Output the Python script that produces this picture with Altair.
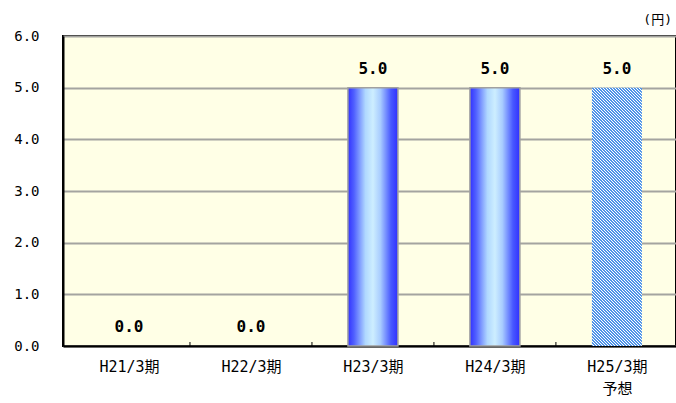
import altair as alt
import pandas as pd

# Dividend per share by fiscal period (yen)
periods = ["H21/3期", "H22/3期", "H23/3期", "H24/3期", "H25/3期|予想"]
dividends = [0.0, 0.0, 5.0, 5.0, 5.0]
forecast = [False, False, False, False, True]
y_ticks = [0, 1, 2, 3, 4, 5, 6]

df = pd.DataFrame({
    "idx": list(range(len(periods))),
    "period": periods,
    "value": dividends,
    "forecast": forecast,
})
bounds = pd.DataFrame({"b": [i + 0.5 for i in range(len(periods) - 1)]})

PLOT_W, PLOT_H = 613, 310
BAND = 124
BAR_W = 50
MONO = "'DejaVu Sans Mono', 'Noto Sans CJK JP'"

x_scale = alt.Scale(domain=[-0.5, -0.5 + PLOT_W / BAND], nice=False, zero=False)
y_scale = alt.Scale(domain=[0, 6], nice=False)

label_js = "[" + ",".join("'" + p + "'" for p in periods) + "]"
x_axis = alt.Axis(
    values=list(range(len(periods))),
    labelExpr="split(" + label_js + "[datum.value], '|')",
    title=None, ticks=False, grid=False,
    domainColor="#000", domainWidth=2,
    labelFont=MONO, labelFontSize=15, labelColor="#000",
    labelPadding=13, labelLineHeight=22, labelBaseline="top",
)
y_axis = alt.Axis(
    values=y_ticks, format=".1f", title=None, ticks=False,
    grid=True, gridColor="#a4a4a0", gridWidth=2,
    domainColor="#000", domainWidth=2,
    labelFont=MONO, labelFontSize=14, labelColor="#000", labelPadding=24,
)

base = alt.Chart(df)

# Cylinder-like shading for the actual results
solid_fill = alt.Gradient(
    gradient="linear", x1=0, y1=0, x2=1, y2=0,
    stops=[
        alt.GradientStop(offset=0.0, color="#3232ff"),
        alt.GradientStop(offset=0.12, color="#5060ff"),
        alt.GradientStop(offset=0.35, color="#b0d8ff"),
        alt.GradientStop(offset=0.5, color="#cdeeff"),
        alt.GradientStop(offset=0.65, color="#a8ccff"),
        alt.GradientStop(offset=0.86, color="#4858ff"),
        alt.GradientStop(offset=1.0, color="#3030ff"),
    ],
)

# Diagonal hatching for the forecast bar, built as a striped gradient.
# Gradient coordinates are in the bar's bounding-box units, so the vector is
# chosen to give 45-degree stripes with a 3px horizontal pitch.
w, h = BAR_W, 5 * PLOT_H / 6
pitch = 3
n_stripes = int((w + h) / pitch) + 1
k = pitch * n_stripes / (w * w + h * h)
x2 = k * w
y2 = 1 - k * h
stops = []
for i in range(n_stripes):
    a = i / n_stripes
    m = (i + 0.38) / n_stripes
    e = (i + 1) / n_stripes
    stops += [
        alt.GradientStop(offset=a, color="#4f94e8"),
        alt.GradientStop(offset=m, color="#4f94e8"),
        alt.GradientStop(offset=m, color="#ffffff"),
        alt.GradientStop(offset=e, color="#ffffff"),
    ]
hatch_fill = alt.Gradient(gradient="linear", x1=0, y1=1, x2=x2, y2=y2, stops=stops)

bars = base.transform_filter("datum.value > 0 && !datum.forecast").mark_bar(
    size=BAR_W, fill=solid_fill, stroke="#a0a0a0", strokeWidth=1.5
).encode(
    x=alt.X("idx:Q", scale=x_scale, axis=x_axis),
    y=alt.Y("value:Q", scale=y_scale, axis=y_axis),
)

hatch = base.transform_filter("datum.forecast").mark_bar(
    size=BAR_W, fill=hatch_fill
).encode(
    x=alt.X("idx:Q", scale=x_scale),
    y=alt.Y("value:Q", scale=y_scale),
)

labels = base.mark_text(
    font=MONO, fontSize=16, fontWeight="bold", color="#000",
    baseline="bottom", dy=-11,
).encode(
    x=alt.X("idx:Q", scale=x_scale),
    y=alt.Y("value:Q", scale=y_scale),
    text=alt.Text("value:Q", format=".1f"),
)

ticks = alt.Chart(bounds).mark_rule(color="#000", strokeWidth=1).encode(
    x=alt.X("b:Q", scale=x_scale),
    y=alt.value(PLOT_H),
    y2=alt.value(PLOT_H - 4),
)

unit = alt.Chart(pd.DataFrame({"t": ["(円)"]})).mark_text(
    font=MONO, fontSize=13, color="#000", align="right", baseline="middle"
).encode(
    x=alt.value(609), y=alt.value(-16), text="t:N"
)

chart = alt.layer(bars, hatch, ticks, labels, unit).properties(
    width=PLOT_W, height=PLOT_H,
    padding={"left": 63, "top": 36, "right": 0, "bottom": 57},
    autosize=alt.AutoSizeParams(type="none"),
    background="#ffffff",
).configure_view(
    fill="#ffffe6", stroke="#000", strokeWidth=2,
)

chart.save("out.html", embed_options={"renderer": "svg", "actions": False})
